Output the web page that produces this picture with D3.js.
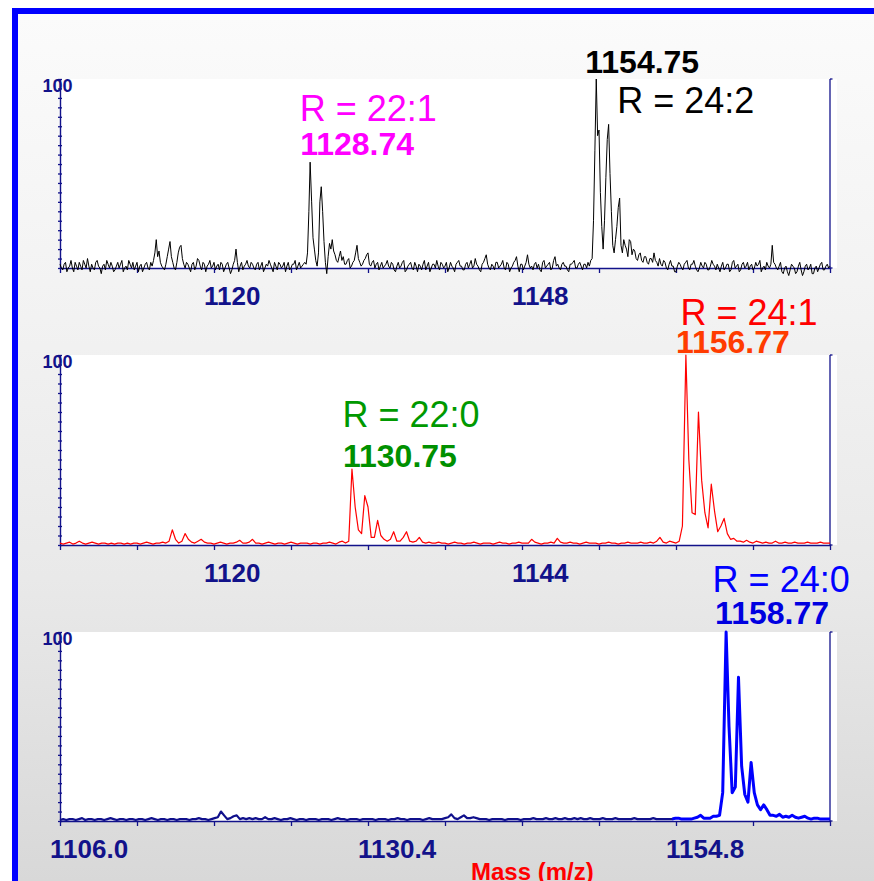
<!DOCTYPE html>
<html>
<head>
<meta charset="utf-8">
<script src="https://cdn.jsdelivr.net/npm/d3@7"></script>
<style>
  html, body { margin: 0; padding: 0; background: #fff; }
  svg { display: block; }
</style>
</head>
<body>
<svg id="chart" width="874" height="881"></svg>
<script>
// ---------- data ----------
// Each profile is sampled at a fixed m/z step from its start mass; intensities in %.

// Trace 1 (black): 1106 – 1176, step 0.125
const topStart = 1106;
const topStep = 0.125;
const topIntensity = [
  2,0,-1,2,3,-2,0,1,4,0,-2,3,1,-1,3,1,-1,4,2,0,5,1,-2,2,0,-1,3,4,1,0,-3,1,2,-1,4,2,0,3,1,-2,
  -1,1,3,0,2,4,-2,0,1,-1,4,2,0,3,-1,1,3,-2,1,2,-2,0,2,3,0,-1,3,1,4,8,15,6,9,3,1,0,-1,2,6,10,
  14,6,3,0,-1,3,8,11,12,5,2,0,3,2,0,-2,2,3,-1,1,5,4,1,-1,3,2,-2,1,2,4,0,1,3,-1,1,2,-1,3,2,-2,
  0,2,3,0,-3,-1,2,4,10,3,-2,1,3,-1,1,2,4,1,0,3,2,0,-1,2,3,-1,1,3,-2,0,2,1,4,2,0,-2,3,1,-1,3,
  2,0,1,3,-2,1,3,-1,0,2,2,4,-1,1,3,0,1,2,3,2,8,30,56,35,16,10,4,1,8,35,43,30,14,3,-3,6,13,10,15,9,
  7,4,3,6,9,4,6,2,2,4,5,0,1,3,4,8,12,5,3,1,2,4,5,7,8,2,1,3,4,0,2,3,-1,1,3,0,1,2,4,1,
  0,3,2,-1,-2,1,3,0,1,3,4,-2,-1,1,2,3,0,-1,3,1,-2,2,1,-1,2,4,-1,1,3,-2,0,2,2,0,4,1,-1,3,2,0,
  1,3,-2,0,3,1,0,-2,2,3,4,1,1,-1,-1,2,3,0,2,4,0,1,5,2,1,-1,-2,2,3,5,7,2,0,-1,2,1,-1,3,3,0,
  1,2,4,0,-1,3,2,-2,0,1,3,4,6,1,-2,2,2,-1,1,3,7,2,0,1,-1,2,3,0,2,-1,-2,3,4,0,1,2,3,-1,0,4,
  6,1,2,0,-1,2,3,1,1,-1,-2,2,2,3,4,0,0,2,3,1,-1,2,2,0,3,1,4,5,25,62,100,70,73,40,22,10,25,48,68,76,
  50,30,12,8,15,22,32,37,12,8,15,12,10,6,15,14,7,10,9,5,4,7,8,4,3,6,6,3,2,5,5,3,8,4,3,1,5,2,1,4,
  3,0,-1,2,4,1,1,-2,-2,1,3,2,0,-1,2,3,4,0,-1,2,2,4,1,-1,-2,0,3,1,0,3,2,-1,-1,1,4,2,1,-1,2,0,
  -2,1,3,-1,0,2,2,-2,-1,3,4,0,1,2,-2,-1,2,3,0,1,3,-1,1,2,-1,0,3,1,2,4,-2,0,1,-1,3,1,0,2,12,3,
  2,0,-1,1,3,-2,-3,0,1,-2,-4,-1,2,1,0,-3,-2,1,3,-1,-4,-2,1,2,-1,0,2,-3,-3,0,1,-2,0,2,3,-1,-1,1,2,0,
  1
];
const topApex = [[1128.74, 56], [1154.75, 100]];
const topPeakNames = ["R = 22:1", "R = 24:2"];
const topTicks = [1106, 1113, 1120, 1127, 1134, 1141, 1148, 1155, 1162, 1169, 1176];
const topTickLabels = ["1120", "1148"];

// Trace 2 (red): 1108 – 1168, step 0.25
const midStart = 1108;
const midStep = 0.25;
const midIntensity = [
  1,0.5,1,1.5,0.5,1,2,1,0.5,1,1.5,1,0.5,1,1,0.5,1,0.5,1,1,
  0.5,1,0.5,1,1,0.5,1,1.5,1,0.5,1,1,1.5,1,2,8,3,1,2,6,
  3,1.5,1,2,3,1.5,1,1,0.5,1,1.5,1,0.5,1,1,1.5,2.5,1,1,1.5,
  3,1,1,0.5,1,1.5,1,0.5,1,1,0.5,1,1.5,1,0.5,1,1,1,0.5,1,
  1,0.5,1,1,1.5,1,0.5,1.5,2,1,2,40,20,8,6,26,20,4,4,13,
  5,3,2,3,7,2,2,4,7,2,1.5,2,4,1.5,1,1.5,1,1,1.5,1,
  1,0.5,1,1.5,1,1,0.5,1,1,1.5,1,0.5,1,1,1,0.5,1,1.5,1,1,
  0.5,1,1,1.5,1,1,1,3,1.5,1,0.5,1,1,1.5,1,3.5,1.5,1,1,1.5,
  1,1,0.5,1,1.5,1,1,1,0.5,1,1,1.5,1,1,0.5,1,1,1.5,1,1,
  1,1.5,1,1,1.5,1,2,4,1.5,1,2,1.5,1,2,10,100,45,17,16,70,
  34,17,9,32,18,7,10,14,6,3,3.5,2,2,1.5,2.5,1.5,1,2,1.5,1,
  1.5,1,1,2,1,1,1.5,1,1,1.5,1,1,1,1.5,1,1,1,1.5,1,1,1
];
const midApex = [[1130.75, 40], [1156.77, 100]];
const midPeakNames = ["R = 22:0", "R = 24:1"];
const midTicks = [1108, 1114, 1120, 1126, 1132, 1138, 1144, 1150, 1156, 1162, 1168];
const midTickLabels = ["1120", "1144"];

// Trace 3 (blue): 1106.0 – 1167.0, step 0.25
const botStart = 1106;
const botStep = 0.25;
const botIntensity = [
  0.5,1,0.5,1,1,0.5,1,1.5,0.5,1,1,0.5,1,1,0.5,1,1.5,1,0.5,1,
  1,0.5,1,1,0.5,1,1,0.5,1,1.5,1,0.5,1,1,0.5,1,1,0.5,1,1,
  1,0.5,1,1,1.5,1,1,0.5,1,1.5,2,5,3,1,1.5,2.5,3,1,1.5,1,
  1.5,1,1.5,1,1,2,1,1,1.5,1,0.5,1,1,1.5,1,0.5,1,1,0.5,1,
  1,1,0.5,1,1,1,0.5,1,1.5,1,1,0.5,1,1,1,0.5,1,1,1,1,
  0.5,1,1,1,0.5,1,1,1.5,1,1,0.5,1,1,1,1,0.5,1,1.5,1,1,
  1,1,1.5,2,3.5,1.5,1,2,3,1.5,1.5,2,1.5,1,1,1,0.5,1,1,1,
  1,0.5,1,1,1,1,0.5,1,1,1,1.5,1,1,1,1.5,1,1,1.5,1,1,
  1.5,1,1,1.5,1,1.5,1,1,1.5,1,1,1,1.5,1,1,1,1.5,1,1,1,
  1,1,1.5,1,1,1,1,1,1.5,1,1,1,1,1,1,1.5,1.5,1,1,1,
  1,1.5,2,3,1.5,1.5,1.5,2.5,2.5,3,15,100,50,15,18,76,29,14,10,31,
  15,8.5,6,8.5,6,3,3,2.5,3.5,2,2.5,2,3,2,1.5,2,2.5,1.5,1,1.5,
  1.5,1,1,1,1
];
const botApex = [[1158.77, 100]];
const botPeakNames = ["R = 24:0"];
const botTicks = [1106.0, 1112.1, 1118.2, 1124.3, 1130.4, 1136.5, 1142.6, 1148.7, 1154.8, 1160.9, 1167.0];
const botTickLabels = ["1106.0", "1130.4", "1154.8"];
const botHighlightFrom = 1154.5;   // the zoomed part of trace 3 is drawn in bright blue

const yTicks = [0,5,10,15,20,25,30,35,40,45,50,55,60,65,70,75,80,85,90,95,100];
const axisTitle = "Mass (m/z)";

// ---------- layout / styles ----------
const W = 874, H = 881;
const NAVY = "#12128a";
const FONT = "'Liberation Sans', Arial, Helvetica, sans-serif";
const plotLeft = 60, plotRight = 830, whiteRight = 837;

const svg = d3.select("#chart");

// page background with the blue frame on top and left
const defs = svg.append("defs");
const grad = defs.append("linearGradient").attr("id", "bg").attr("x1", 0).attr("y1", 0).attr("x2", 0).attr("y2", 1);
[[0, "#fbfbfb"], [0.35, "#f2f2f2"], [0.65, "#e9e9e9"], [1, "#d8d8d8"]]
  .forEach(([o, c]) => grad.append("stop").attr("offset", o).attr("stop-color", c));

svg.append("rect").attr("width", W).attr("height", H).attr("fill", "#fff");
svg.append("rect").attr("x", 18).attr("y", 14).attr("width", W - 18).attr("height", H - 14).attr("fill", "url(#bg)");
svg.append("rect").attr("x", 12).attr("y", 8).attr("width", W - 12).attr("height", 6).attr("fill", "#0000ff");
svg.append("rect").attr("x", 12).attr("y", 8).attr("width", 6).attr("height", H - 8).attr("fill", "#0000ff");

function buildSeries(start, step, values, apex) {
  const pts = values
    .map((v, i) => [start + i * step, v])
    .filter(([m]) => !apex.some(([a]) => Math.abs(a - m) < 0.05));
  return pts.concat(apex).sort((a, b) => a[0] - b[0]);
}

const panels = [
  {
    top: 79, bottom: 268, step: topStep, series: buildSeries(topStart, topStep, topIntensity, topApex),
    domain: [topTicks[0], topTicks[topTicks.length - 1]], ticks: topTicks, tickLabels: topTickLabels,
    strokes: [{ color: "#000", width: 1 }],
    notes: [
      { apex: topApex[0], name: topPeakNames[0], color: "#ff00ff", numColor: "#ff00ff", nameDx: -10.5, nameDy: 42, numDx: -10, numDy: 76 },
      { apex: topApex[1], name: topPeakNames[1], color: "#000", numColor: "#000", nameDx: 21, nameDy: 34, numDx: -11, numDy: -6 }
    ]
  },
  {
    top: 355, bottom: 545, step: midStep, series: buildSeries(midStart, midStep, midIntensity, midApex),
    domain: [midTicks[0], midTicks[midTicks.length - 1]], ticks: midTicks, tickLabels: midTickLabels,
    strokes: [{ color: "#ff0000", width: 1.2 }],
    notes: [
      { apex: midApex[0], name: midPeakNames[0], color: "#009900", numColor: "#009000", nameDx: -9.5, nameDy: 72, numDx: -9, numDy: 112 },
      { apex: midApex[1], name: midPeakNames[1], color: "#ff0000", numColor: "#ff3c00", nameDx: -5.5, nameDy: -30, numDx: -10, numDy: -2 }
    ]
  },
  {
    top: 632, bottom: 821, step: botStep, series: buildSeries(botStart, botStep, botIntensity, botApex),
    domain: [botTicks[0], botTicks[botTicks.length - 1]], ticks: botTicks, tickLabels: botTickLabels,
    split: botHighlightFrom,
    strokes: [{ color: "#10108c", width: 2.2 }, { color: "#0000ff", width: 3 }],
    notes: [
      { apex: botApex[0], name: botPeakNames[0], color: "#0000ff", numColor: "#0000e0", nameDx: -13.5, nameDy: -40, numDx: -11, numDy: -8 }
    ]
  }
];

panels.forEach(p => {
  const x = d3.scaleLinear().domain(p.domain).range([plotLeft, plotRight]);
  const y = d3.scaleLinear().domain([0, 100]).range([p.bottom, p.top]);
  const g = svg.append("g");

  // white plotting field
  g.append("rect").attr("x", plotLeft).attr("y", p.top)
    .attr("width", whiteRight - plotLeft).attr("height", p.bottom - p.top).attr("fill", "#fff");

  // left intensity axis
  const yAxis = g.append("g").attr("transform", `translate(${plotLeft},0)`)
    .call(d3.axisLeft(y).tickValues(yTicks).tickSize(2).tickSizeOuter(0).tickFormat(""));
  yAxis.selectAll(".tick line").attr("x1", 2).attr("x2", -2).attr("stroke", NAVY).attr("stroke-width", 1.3);
  yAxis.select(".domain").attr("stroke", NAVY).attr("stroke-width", 1.4);

  // right frame line
  g.append("line").attr("x1", plotRight).attr("x2", plotRight).attr("y1", p.top).attr("y2", p.bottom)
    .attr("stroke", NAVY).attr("stroke-width", 1.3);
  g.append("line").attr("x1", plotRight).attr("x2", plotRight + 2.5).attr("y1", p.top).attr("y2", p.top)
    .attr("stroke", NAVY).attr("stroke-width", 1.3);
  g.append("line").attr("x1", plotRight).attr("x2", plotRight + 2.5).attr("y1", p.bottom).attr("y2", p.bottom)
    .attr("stroke", NAVY).attr("stroke-width", 1.3);

  // mass axis
  const xAxis = g.append("g").attr("transform", `translate(0,${p.bottom})`)
    .call(d3.axisBottom(x).tickValues(p.ticks).tickSize(5).tickSizeOuter(0).tickFormat(""));
  xAxis.selectAll(".tick line").attr("stroke", NAVY).attr("stroke-width", 1.3);
  xAxis.select(".domain").attr("stroke", NAVY).attr("stroke-width", 1.4);

  p.tickLabels.forEach(t => {
    g.append("text").attr("x", x(+t) - 10).attr("y", p.bottom + 36.5)
      .attr("font-family", FONT).attr("font-weight", "bold").attr("font-size", 26)
      .attr("fill", NAVY).text(t);
  });

  // "100" at the top of the intensity axis
  g.append("text").attr("x", plotLeft - 2.5).attr("y", p.top + 12.8)
    .attr("text-anchor", "middle").attr("font-family", FONT).attr("font-weight", "bold")
    .attr("font-size", 18).attr("fill", NAVY).text(yTicks[yTicks.length - 1]);

  // spectrum trace
  const line = d3.line().x(d => x(d[0])).y(d => y(d[1]));
  if (p.split !== undefined) {
    const lo = p.series.filter(d => d[0] <= p.split + p.step);
    const hi = p.series.filter(d => d[0] >= p.split);
    g.append("path").datum(lo).attr("d", line).attr("fill", "none")
      .attr("stroke", p.strokes[0].color).attr("stroke-width", p.strokes[0].width).attr("stroke-linejoin", "round");
    g.append("path").datum(hi).attr("d", line).attr("fill", "none")
      .attr("stroke", p.strokes[1].color).attr("stroke-width", p.strokes[1].width).attr("stroke-linejoin", "round");
  } else {
    g.append("path").datum(p.series).attr("d", line).attr("fill", "none")
      .attr("stroke", p.strokes[0].color).attr("stroke-width", p.strokes[0].width).attr("stroke-linejoin", "round");
  }

  // peak annotations: composition and peak mass
  p.notes.forEach(n => {
    const px = x(n.apex[0]);
    g.append("text").attr("x", px + n.nameDx).attr("y", p.top + n.nameDy)
      .attr("font-family", FONT).attr("font-size", 36).attr("fill", n.color).text(n.name);
    g.append("text").attr("x", px + n.numDx).attr("y", p.top + n.numDy)
      .attr("font-family", FONT).attr("font-weight", "bold").attr("font-size", 32)
      .attr("fill", n.numColor).text(n.apex[0].toFixed(2));
  });
});

// mass axis title
svg.append("text").attr("x", 471).attr("y", 880)
  .attr("font-family", FONT).attr("font-weight", "bold").attr("font-size", 24)
  .attr("fill", "#ff0000").text(axisTitle);
</script>
</body>
</html>
